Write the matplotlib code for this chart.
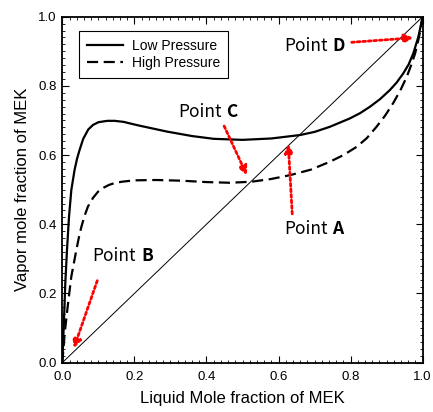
import matplotlib
matplotlib.use("Agg")
import matplotlib.pyplot as plt
from matplotlib.ticker import MultipleLocator

# values
low_x = [0.0, 0.005, 0.0083, 0.013, 0.0186, 0.025, 0.034, 0.041, 0.048, 0.058, 0.072, 0.085,
         0.1, 0.125, 0.145, 0.17, 0.21, 0.25, 0.29, 0.36, 0.42, 0.5, 0.58, 0.66, 0.7,
         0.743, 0.798, 0.826, 0.854, 0.882, 0.909, 0.928, 0.946, 0.961, 0.974, 0.988, 1.0]
low_y = [0.0, 0.133, 0.23, 0.326, 0.422, 0.499, 0.557, 0.59, 0.615, 0.647, 0.674, 0.687,
         0.695, 0.699, 0.699, 0.696, 0.686, 0.677, 0.668, 0.655, 0.647, 0.644, 0.648, 0.658,
         0.667, 0.682, 0.706, 0.721, 0.74, 0.762, 0.788, 0.81, 0.836, 0.862, 0.894, 0.942, 1.0]

high_x = [0.0, 0.0067, 0.016, 0.025, 0.039, 0.046, 0.053, 0.062, 0.071, 0.085, 0.099,
          0.115, 0.13, 0.145, 0.165, 0.2, 0.26, 0.33, 0.4, 0.465, 0.525, 0.58, 0.632,
          0.69, 0.743, 0.78, 0.817, 0.845, 0.872, 0.895, 0.918, 0.938, 0.956, 0.968,
          0.979, 0.99, 1.0]
high_y = [0.0, 0.086, 0.172, 0.249, 0.326, 0.362, 0.393, 0.425, 0.451, 0.476, 0.494,
          0.506, 0.514, 0.519, 0.523, 0.527, 0.528, 0.526, 0.522, 0.52, 0.523, 0.531, 0.542,
          0.558, 0.581, 0.6, 0.624, 0.649, 0.682, 0.713, 0.75, 0.787, 0.827, 0.86,
          0.894, 0.942, 1.0]

diag = [0.0, 1.0]

# point labels: (name, text pos, arrow tail, arrow head)
point_names = ["A", "B", "C", "D"]
label_pos = [(0.615, 0.386), (0.084, 0.307), (0.321, 0.724), (0.615, 0.915)]
arrow_tail = [(0.638, 0.43), (0.097, 0.237), (0.449, 0.684), (0.803, 0.926)]
arrow_head = [(0.627, 0.632), (0.032, 0.042), (0.512, 0.542), (0.974, 0.939)]

label_font = "Noto Sans CJK KR"

fig = plt.figure(figsize=(4.33, 4.12), dpi=100)
ax = fig.add_axes([0.1439, 0.1197, 0.8323, 0.8398])

ax.plot(diag, diag, color="black", lw=0.7)
ax.plot(low_x, low_y, color="black", lw=1.6, label="Low Pressure")
ax.plot(high_x, high_y, color="black", lw=1.6, dashes=(5, 2.5), label="High Pressure")

for name, pos, tail, head in zip(point_names, label_pos, arrow_tail, arrow_head):
    t1 = ax.text(pos[0], pos[1], "Point", fontsize=12.5, family=label_font,
                 va="center", ha="left")
    ax.annotate(name, xy=(1, 0.5), xycoords=t1, xytext=(3.5, 0), textcoords="offset points",
                fontsize=12.5, family=label_font, fontweight="bold",
                va="center", ha="left")
    ax.annotate("", xy=head, xytext=tail,
                arrowprops=dict(arrowstyle="-|>,head_length=0.5,head_width=0.25",
                                color="red", lw=2, linestyle=(0, (1, 1)),
                                shrinkA=0, shrinkB=0))

ax.set_xlim(0, 1)
ax.set_ylim(0, 1)
ax.xaxis.set_major_locator(MultipleLocator(0.2))
ax.yaxis.set_major_locator(MultipleLocator(0.2))
ax.xaxis.set_minor_locator(MultipleLocator(0.02))
ax.yaxis.set_minor_locator(MultipleLocator(0.02))
ax.tick_params(which="both", direction="in", top=True, right=True, labelsize=9.5)
ax.tick_params(which="major", length=5, width=0.8)
ax.tick_params(which="minor", length=2.5, width=0.6)
ax.tick_params(axis="x", pad=6)
ax.tick_params(axis="y", pad=4)
for sp in ax.spines.values():
    sp.set_linewidth(1.3)
for lab in ax.get_xticklabels() + ax.get_yticklabels():
    lab.set_family("Liberation Sans")

ax.set_xlabel("Liquid Mole fraction of MEK", fontsize=12, family="Liberation Sans", labelpad=6)
ax.set_ylabel("Vapor mole fraction of MEK", fontsize=12, family="Liberation Sans", labelpad=6)

leg = ax.legend(loc="upper left", bbox_to_anchor=(0.046, 0.959), borderaxespad=0,
                fancybox=False, edgecolor="black", framealpha=1,
                prop={"family": "Liberation Sans", "size": 10},
                handlelength=2.6, borderpad=0.55, labelspacing=0.25, handletextpad=0.7)
leg.get_frame().set_linewidth(0.8)

fig.savefig("out.png", dpi=100)
